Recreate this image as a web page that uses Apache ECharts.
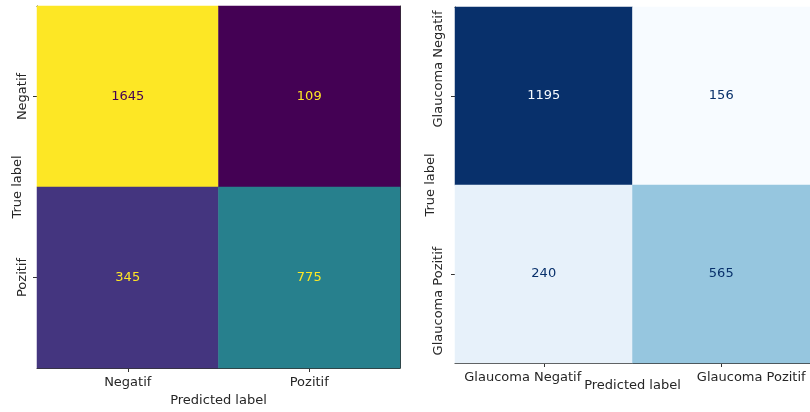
<!DOCTYPE html>
<html>
<head>
<meta charset="utf-8">
<title>Confusion matrices</title>
<script src="https://cdn.jsdelivr.net/npm/echarts@6/dist/echarts.min.js"></script>
<style>
  html, body { margin: 0; padding: 0; background: #ffffff; }
  #chart { width: 810px; height: 412px; }
</style>
</head>
<body>
<div id="chart"></div>
<script>
// Class names and counts (rows = true label, columns = predicted label)
const classesA = ['Negatif', 'Pozitif'];
const matrixA = [
  [1645, 109],
  [345, 775]
];
const classesB = ['Glaucoma Negatif', 'Glaucoma Pozitif'];
const matrixB = [
  [1195, 156],
  [240, 565]
];
const axisTitleX = 'Predicted label';
const axisTitleY = 'True label';

// Colour maps
const viridis = ['#440154', '#482475', '#414487', '#355f8d', '#2a788e', '#21918c',
                 '#22a884', '#44bf70', '#7ad151', '#bddf26', '#fde725'];
const blues = ['#f7fbff', '#deebf7', '#c6dbef', '#9ecae1', '#6baed6', '#4292c6',
               '#2171b5', '#08519c', '#08306b'];

const FONT = 'DejaVu Sans';
const INK = '#262626';

// Turn a matrix into heatmap cells; text is light on dark cells and dark on light ones
function cells(matrix, lowColor, highColor) {
  const flat = matrix.flat();
  const min = Math.min(...flat), max = Math.max(...flat);
  const thresh = (min + max) / 2;
  const out = [];
  matrix.forEach((row, r) => {
    row.forEach((v, c) => {
      out.push({ value: [c, r, v], label: { color: v < thresh ? highColor : lowColor } });
    });
  });
  return { data: out, min, max };
}

const cellsA = cells(matrixA, viridis[0], viridis[viridis.length - 1]);
const cellsB = cells(matrixB, blues[0], blues[blues.length - 1]);

function frameAxis(gridIndex, position, data, isX) {
  return {
    type: 'category', gridIndex, position, data,
    inverse: !isX,
    axisLine: { show: true, lineStyle: { color: '#333', width: 1 } },
    axisTick: { show: false }, axisLabel: { show: false }, splitLine: { show: false }
  };
}

const tickStyle = { show: true, alignWithLabel: true, length: 4, lineStyle: { color: '#333', width: 1 } };
const nameStyle = { color: INK, fontSize: 13, fontFamily: FONT };

const option = {
  animation: false,
  backgroundColor: '#ffffff',
  textStyle: { fontFamily: FONT },
  grid: [
    { left: 37, top: 6, width: 363, height: 362 },
    { left: 455, top: 7, width: 356, height: 356 }
  ],
  xAxis: [
    {
      type: 'category', gridIndex: 0, position: 'bottom', data: classesA,
      axisLine: { show: true, lineStyle: { color: '#333', width: 1 } },
      axisTick: tickStyle,
      axisLabel: { color: INK, fontSize: 13, fontFamily: FONT, margin: 8, interval: 0 },
      name: axisTitleX, nameLocation: 'middle', nameGap: 26, nameMoveOverlap: false,
      nameTextStyle: nameStyle,
      splitLine: { show: false }
    },
    frameAxis(0, 'top', classesA, true),
    {
      type: 'category', gridIndex: 1, position: 'bottom', data: classesB,
      axisLine: { show: true, lineStyle: { color: '#333', width: 1 } },
      axisTick: tickStyle,
      axisLabel: {
        color: INK, fontSize: 13, fontFamily: FONT, margin: 8, interval: 0,
        formatter: (v, i) => '{' + (i === 0 ? 'a' : 'b') + '|' + v + '}',
        rich: {
          a: { color: INK, fontSize: 13, fontFamily: FONT, padding: [0, 42, 0, 0] },
          b: { color: INK, fontSize: 13, fontFamily: FONT, padding: [0, 0, 4, 60] }
        }
      },
      name: axisTitleX, nameLocation: 'middle', nameGap: 16, nameMoveOverlap: false,
      nameTextStyle: nameStyle,
      splitLine: { show: false }
    },
    frameAxis(1, 'top', classesB, true)
  ],
  yAxis: [
    {
      type: 'category', gridIndex: 0, position: 'left', data: classesA, inverse: true,
      axisLine: { show: true, lineStyle: { color: '#333', width: 1 } },
      axisTick: tickStyle,
      axisLabel: { color: INK, fontSize: 13, fontFamily: FONT, margin: 8, rotate: 90, interval: 0 },
      name: axisTitleY, nameLocation: 'middle', nameGap: 13, nameMoveOverlap: false,
      nameTextStyle: nameStyle,
      splitLine: { show: false }
    },
    frameAxis(0, 'right', classesA, false),
    {
      type: 'category', gridIndex: 1, position: 'left', data: classesB, inverse: true,
      axisLine: { show: true, lineStyle: { color: '#333', width: 1 } },
      axisTick: tickStyle,
      axisLabel: {
        color: INK, fontSize: 13, fontFamily: FONT, margin: 10, rotate: 90, interval: 0,
        formatter: (v, i) => '{' + (i === 0 ? 'a' : 'b') + '|' + v + '}',
        rich: {
          a: { color: INK, fontSize: 13, fontFamily: FONT, padding: [0, 0, 0, 54] },
          b: { color: INK, fontSize: 13, fontFamily: FONT, padding: [0, 54, 0, 0] }
        }
      },
      name: axisTitleY, nameLocation: 'middle', nameGap: 18, nameMoveOverlap: false,
      nameTextStyle: nameStyle,
      splitLine: { show: false }
    },
    frameAxis(1, 'right', classesB, false)
  ],
  visualMap: [
    { show: false, type: 'continuous', seriesIndex: 0, dimension: 2,
      min: cellsA.min, max: cellsA.max, inRange: { color: viridis } },
    { show: false, type: 'continuous', seriesIndex: 1, dimension: 2,
      min: cellsB.min, max: cellsB.max, inRange: { color: blues } }
  ],
  series: [
    {
      type: 'heatmap', xAxisIndex: 0, yAxisIndex: 0, data: cellsA.data,
      label: { show: true, fontSize: 13, fontFamily: FONT, formatter: p => String(p.value[2]) },
      emphasis: { disabled: true }
    },
    {
      type: 'heatmap', xAxisIndex: 2, yAxisIndex: 2, data: cellsB.data,
      label: { show: true, fontSize: 13, fontFamily: FONT, formatter: p => String(p.value[2]) },
      emphasis: { disabled: true }
    }
  ]
};

const chart = echarts.init(document.getElementById('chart'), null, { renderer: 'canvas' });
chart.setOption(option);
</script>
</body>
</html>
